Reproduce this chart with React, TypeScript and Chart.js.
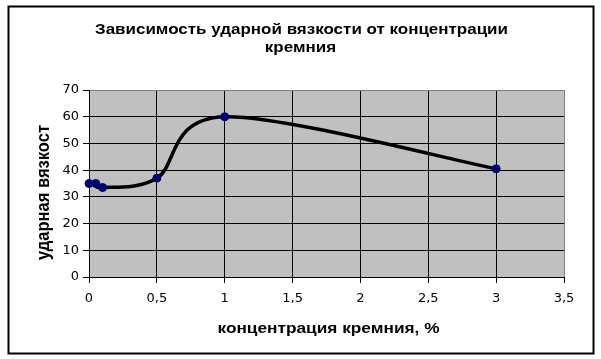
import React, { useEffect, useRef } from "react";
import { Chart, registerables } from "chart.js";

Chart.register(...registerables);

const concentration = [0, 0.05, 0.1, 0.5, 1, 3];
const toughness = [35, 35, 33.5, 37, 60, 40.5];
const titleLines = ["Зависимость ударной вязкости от концентрации", "кремния"];
const xTitle = "концентрация кремния, %";
const yTitle = "ударная вязкост";

const TEXT_FONT = "'Liberation Sans', Arial, sans-serif";
const TICK_FONT = "'DejaVu Sans', Verdana, sans-serif";

function stretchedText(ctx: any, text: string, x: number, y: number, sx: number, sy: number) {
  ctx.save();
  ctx.translate(x, y);
  ctx.scale(sx, sy);
  ctx.fillText(text, 0, 0);
  ctx.restore();
}

// Excel-style smoothing: control points at P(i) ± (P(i+1) − P(i−1)) / 6
const excelSmooth = {
  id: "excelSmooth",
  beforeDatasetDraw(chart: any, args: any) {
    const meta = args.meta;
    const line = meta.dataset;
    line.updateControlPoints(chart.chartArea, meta.iScale.axis);
    const pts = meta.data;
    const n = pts.length;
    for (let i = 0; i < n; i++) {
      const p = pts[i];
      const prev = pts[Math.max(i - 1, 0)];
      const next = pts[Math.min(i + 1, n - 1)];
      const dx = (next.x - prev.x) / 6;
      const dy = (next.y - prev.y) / 6;
      p.cp1x = p.x - dx;
      p.cp1y = p.y - dy;
      p.cp2x = p.x + dx;
      p.cp2y = p.y + dy;
    }
    line._path = undefined;
  },
};

const decor = {
  id: "decor",
  beforeDraw(chart: any) {
    const { ctx, chartArea } = chart;
    ctx.save();
    ctx.fillStyle = "#ffffff";
    ctx.fillRect(0, 0, chart.width, chart.height);
    ctx.fillStyle = "#c0c0c0";
    ctx.fillRect(chartArea.left, chartArea.top, chartArea.right - chartArea.left, chartArea.bottom - chartArea.top);
    ctx.restore();
  },
  afterDraw(chart: any) {
    const { ctx, chartArea } = chart;
    ctx.save();
    ctx.strokeStyle = "#000";
    ctx.lineWidth = 2;
    ctx.strokeRect(8.5, 6.5, 585, 347);
    ctx.fillStyle = "#000";
    ctx.textAlign = "center";
    ctx.textBaseline = "alphabetic";
    ctx.font = `bold 15px ${TEXT_FONT}`;
    const tsx = 413 / ctx.measureText(titleLines[0]).width;
    stretchedText(ctx, titleLines[0], 301.5, 34, tsx, 1);
    stretchedText(ctx, titleLines[1], 300.5, 51.5, tsx, 1);
    const xsx = 222 / ctx.measureText(xTitle).width;
    stretchedText(ctx, xTitle, (chartArea.left + chartArea.right) / 2 + 2, 333, xsx, 1);
    const ysx = 135 / ctx.measureText(yTitle).width;
    ctx.translate(49, 192.5);
    ctx.rotate(-Math.PI / 2);
    stretchedText(ctx, yTitle, 0, 0, ysx, 1.25);
    ctx.restore();
  },
};

export default function App() {
  const ref = useRef<HTMLCanvasElement>(null);
  useEffect(() => {
    const chart = new Chart(ref.current!, {
      type: "line",
      data: {
        datasets: [
          {
            data: concentration.map((x, i) => ({ x, y: toughness[i] })),
            borderColor: "#000",
            borderWidth: 3.5,
            tension: 0.4,
            pointRadius: 4,
            pointBackgroundColor: "#000080",
            pointBorderColor: "#000050",
            pointBorderWidth: 1,
            clip: false as any,
          },
        ],
      },
      plugins: [decor, excelSmooth],
      options: {
        animation: false,
        responsive: false,
        devicePixelRatio: 1,
        layout: { padding: { left: 0, top: 90, right: 37, bottom: 0 } },
        plugins: { legend: { display: false }, tooltip: { enabled: false }, title: { display: false } },
        scales: {
          x: {
            type: "linear",
            min: 0,
            max: 3.5,
            ticks: {
              stepSize: 0.5,
              padding: 8,
              color: "#000",
              font: { family: TICK_FONT, size: 13 },
              callback: (v: any) => String(v).replace(".", ","),
            },
            grid: {
              color: (c: any) => (c.tick && c.tick.value === 3.5 ? "#808080" : "#000"),
              tickColor: "#000",
              tickLength: 6,
              lineWidth: 1,
            },
            border: { display: true, color: "#000", width: 1 },
            afterFit: (s: any) => {
              s.height = 82;
            },
          },
          y: {
            min: 0,
            max: 70,
            ticks: {
              stepSize: 10,
              padding: 4,
              color: "#000",
              font: { family: TICK_FONT, size: 13 },
            },
            grid: {
              color: (c: any) => (c.tick && c.tick.value === 70 ? "#808080" : "#000"),
              tickColor: "#000",
              tickLength: 6,
              lineWidth: 1,
            },
            border: { display: true, color: "#000", width: 1 },
            afterFit: (s: any) => {
              s.width = 89;
            },
          },
        },
      } as any,
    });
    return () => chart.destroy();
  }, []);
  return (
    <div style={{ position: "fixed", left: 0, top: 0, width: 601, height: 359, background: "#fff" }}>
      <canvas ref={ref} width={601} height={359} style={{ display: "block", width: 601, height: 359 }} />
    </div>
  );
}
